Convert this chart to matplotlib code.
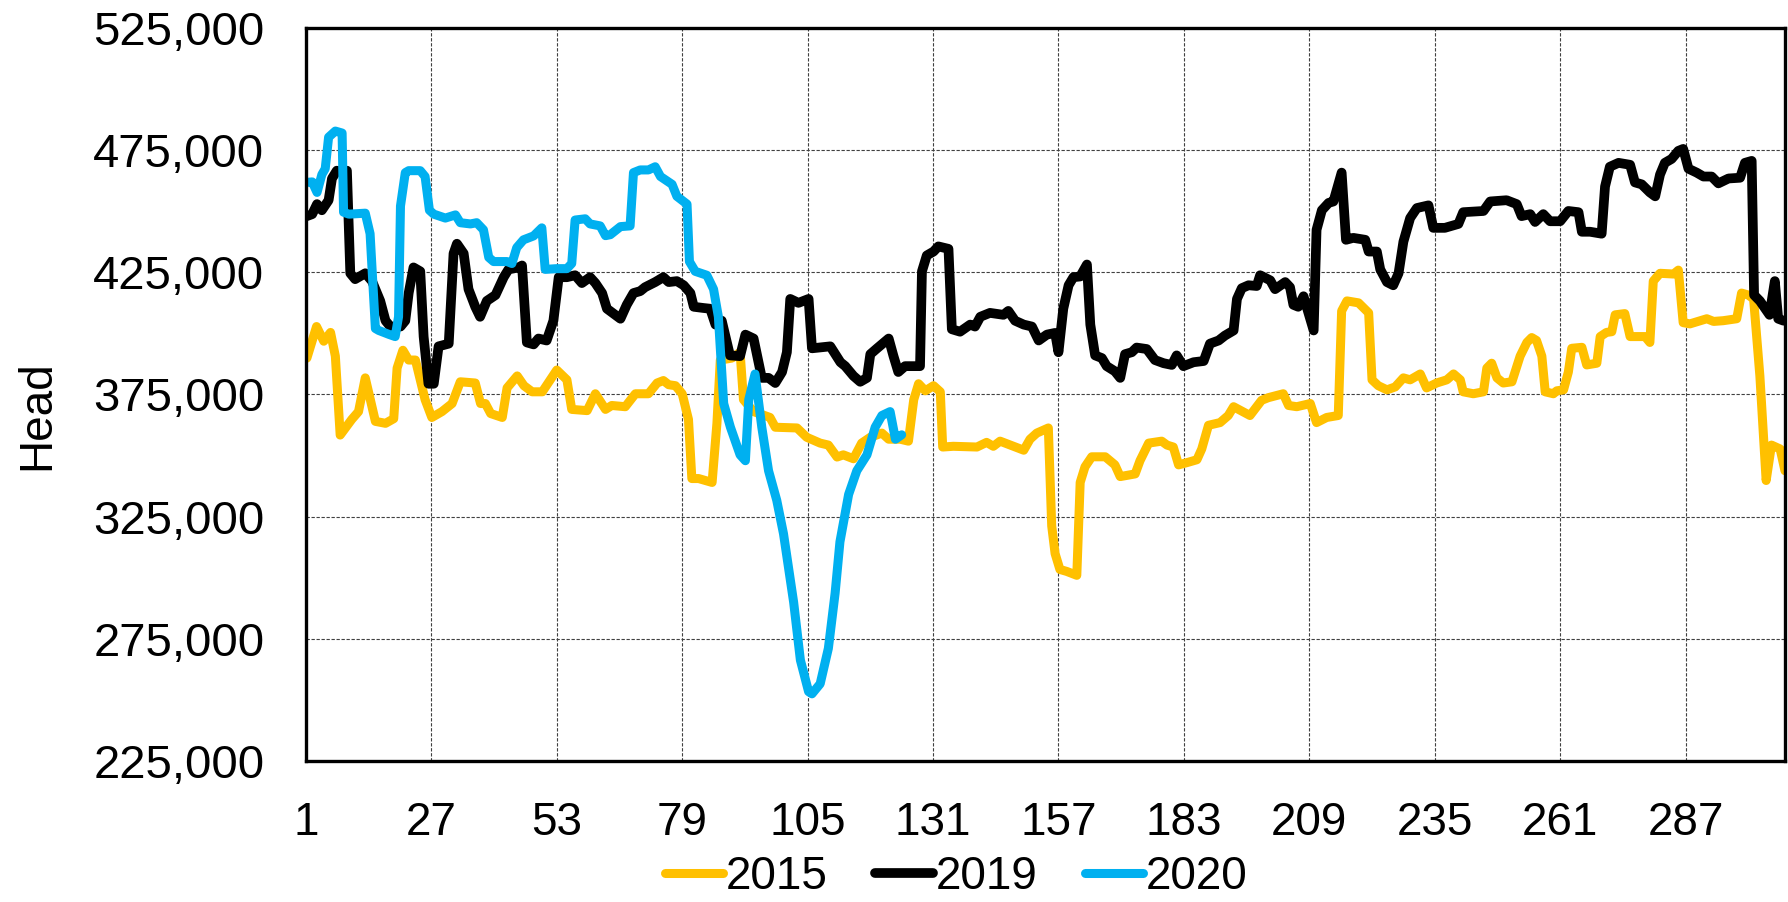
import matplotlib
matplotlib.use("Agg")
import matplotlib.pyplot as plt
from matplotlib.ticker import FuncFormatter

plt.rcParams['font.family'] = ['Liberation Sans', 'DejaVu Sans']

# ---- data (day index, head in thousands) ----
x2015 = [1.2, 3.2, 4.7, 6.1, 7.1, 8.1, 10.5, 11.9, 13.3, 15.4, 17.5, 19.2, 19.9, 21.1, 22.3, 23.7,
         25.7, 27.1, 29.2, 31.3, 33.0, 36.1, 37.2, 38.2, 39.3, 41.7, 42.7, 44.8, 46.2, 47.9, 50.0,
         53.0, 55.1, 56.1, 59.3, 61.0, 63.1, 64.4, 67.2, 69.3, 72.0, 73.8, 75.1, 76.2, 77.6, 79.0,
         80.3, 81.0, 82.4, 85.2, 86.2, 86.9, 89.3, 91.0, 91.7, 93.8, 97.2, 98.3, 102.8, 104.8,
         107.6, 109.3, 111.1, 112.4, 114.5, 116.2, 118.0, 120.4, 121.8, 124.2, 125.9, 127.0, 128.0,
         129.4, 131.1, 132.5, 133.0, 135.2, 140.1, 142.1, 143.5, 144.9, 147.0, 149.8, 151.1, 152.5,
         154.9, 155.6, 156.3, 157.3, 158.7, 160.8, 161.5, 162.5, 163.9, 166.7, 168.7, 169.8, 172.9,
         173.9, 175.7, 178.4, 179.5, 180.8, 181.9, 183.6, 185.7, 186.7, 188.1, 190.5, 192.2, 193.3,
         196.7, 199.1, 200.5, 203.6, 204.7, 206.4, 209.2, 210.5, 212.6, 215.0, 215.7, 216.8, 219.2,
         221.3, 222.0, 223.3, 225.1, 226.8, 228.5, 229.9, 232.0, 233.3, 235.4, 237.5, 238.9, 240.3,
         240.9, 243.0, 245.1, 245.8, 246.8, 247.9, 249.2, 251.0, 252.7, 254.1, 255.1, 256.1, 257.2,
         257.9, 259.6, 260.3, 261.7, 262.7, 263.4, 265.5, 266.5, 268.6, 269.3, 270.6, 271.7, 272.4,
         274.4, 275.5, 278.6, 279.6, 280.3, 281.7, 284.5, 285.5, 286.5, 287.9, 291.4, 292.8, 294.8,
         297.6, 298.6, 300.0, 301.1, 302.4, 303.7, 304.8, 306.6, 307.6]
y2015 = [389.9, 402.8, 396.8, 400.4, 390.7, 358.4, 364.8, 368.0, 381.8, 364.0, 363.2, 365.1, 385.8,
         393.1, 389.1, 389.1, 372.9, 365.6, 368.0, 371.3, 380.2, 379.7, 371.3, 371.3, 367.2, 365.6,
         377.7, 382.6, 378.6, 376.1, 376.1, 385.0, 381.0, 368.9, 368.4, 375.3, 368.9, 370.5, 370.0,
         375.3, 375.3, 379.7, 380.7, 379.0, 378.6, 375.3, 364.8, 340.6, 340.6, 339.0, 363.2, 389.1,
         389.9, 392.3, 372.9, 368.0, 365.6, 361.6, 361.3, 357.5, 355.1, 354.3, 349.4, 350.3, 348.7,
         355.1, 357.5, 359.2, 356.7, 356.7, 355.9, 372.9, 379.4, 376.5, 378.6, 376.1, 353.5, 353.8,
         353.5, 355.4, 353.8, 355.9, 354.3, 352.2, 356.7, 359.2, 361.3, 321.2, 309.9, 303.4, 302.6,
         301.0, 339.0, 345.4, 349.5, 349.5, 346.2, 341.4, 342.5, 347.9, 355.1, 355.9, 354.3, 353.5,
         346.2, 347.1, 348.3, 352.7, 362.4, 363.5, 366.4, 370.0, 366.4, 372.6, 373.7, 375.3, 370.5,
         370.0, 371.3, 363.5, 365.6, 366.4, 409.2, 413.3, 412.5, 408.4, 381.0, 378.6, 376.9, 378.1,
         381.8, 381.0, 383.4, 377.7, 379.7, 381.0, 383.4, 381.0, 376.1, 375.3, 376.1, 385.8, 387.8,
         381.8, 379.7, 380.2, 390.7, 396.3, 398.3, 397.1, 390.7, 376.1, 375.3, 376.5, 376.9, 384.2,
         393.9, 394.3, 387.1, 387.8, 398.7, 400.4, 400.7, 407.6, 408.1, 398.7, 398.7, 396.3, 421.4,
         424.6, 424.3, 425.9, 404.4, 403.9, 406.0, 404.9, 405.2, 406.0, 416.5, 415.7, 414.1, 382.6,
         339.8, 354.3, 352.7, 343.8]

x2019 = [1.2, 2.3, 3.3, 4.3, 5.7, 6.4, 7.4, 8.8, 9.5, 10.2, 11.2, 13.3, 14.7, 16.4, 17.5, 18.5, 20.6,
         21.6, 22.3, 23.3, 24.7, 25.4, 26.4, 27.5, 28.5, 30.6, 31.6, 32.3, 33.7, 34.7, 36.1, 37.1,
         38.5, 40.3, 42.0, 43.0, 45.1, 45.8, 46.8, 48.2, 49.2, 50.9, 52.3, 53.4, 55.1, 56.8, 58.2,
         59.9, 61.0, 62.4, 63.4, 66.2, 67.5, 68.9, 70.3, 71.3, 73.4, 75.1, 76.2, 77.9, 79.3, 80.7,
         81.4, 83.4, 84.8, 85.9, 87.2, 88.9, 91.0, 92.1, 93.8, 95.5, 96.9, 98.3, 99.7, 100.7, 101.4,
         103.1, 105.2, 105.9, 109.7, 111.8, 112.8, 114.5, 115.9, 117.3, 118.0, 119.4, 121.8, 122.8,
         123.8, 125.2, 128.3, 128.7, 129.7, 131.1, 132.1, 134.2, 134.9, 136.6, 138.7, 139.7, 140.8,
         142.8, 145.6, 146.6, 148.0, 149.8, 151.5, 152.9, 154.6, 156.3, 157.0, 158.0, 159.1, 160.1,
         161.5, 162.9, 163.6, 164.6, 166.0, 167.0, 168.7, 169.8, 170.8, 172.2, 173.2, 175.3, 177.0,
         178.8, 180.5, 181.5, 182.9, 185.0, 187.1, 188.4, 190.2, 191.5, 193.3, 194.0, 195.0, 196.4,
         198.1, 198.8, 200.9, 201.9, 204.0, 205.0, 205.7, 206.7, 207.8, 209.9, 210.5, 211.6, 213.0,
         214.0, 215.7, 216.6, 218.1, 220.6, 221.3, 223.0, 223.7, 225.1, 226.4, 227.5, 228.5, 229.9,
         231.3, 233.7, 234.7, 237.1, 239.9, 240.9, 245.1, 246.5, 249.9, 252.0, 253.0, 254.8, 255.8,
         257.5, 258.9, 261.0, 262.7, 264.8, 265.5, 267.2, 269.6, 270.3, 271.3, 273.1, 275.5, 276.5,
         277.9, 279.6, 280.7, 281.7, 282.7, 284.1, 285.5, 286.5, 287.6, 289.3, 290.7, 292.4, 293.8,
         295.9, 298.3, 299.3, 300.7, 301.2, 302.4, 304.4, 305.5, 306.2, 307.3]
y2019 = [448.0, 448.8, 452.9, 450.4, 454.5, 463.4, 466.6, 465.8, 466.6, 424.6, 422.2, 424.6, 421.4,
         413.3, 405.2, 402.8, 402.8, 405.2, 416.5, 427.0, 425.4, 398.7, 379.4, 379.4, 394.7, 395.8,
         432.7, 436.7, 432.7, 418.1, 410.9, 406.8, 413.3, 415.7, 423.0, 426.2, 427.0, 427.8, 396.3,
         395.5, 397.9, 397.1, 405.2, 423.0, 423.0, 423.8, 420.6, 423.0, 420.6, 416.5, 410.1, 406.0,
         411.7, 416.5, 417.3, 418.9, 421.0, 423.0, 421.0, 421.4, 419.7, 416.5, 410.9, 410.4, 410.1,
         403.6, 405.2, 391.0, 390.7, 399.5, 397.9, 381.8, 381.8, 379.7, 384.2, 392.3, 414.1, 412.5,
         414.1, 393.9, 394.7, 388.2, 386.6, 382.6, 380.2, 381.8, 391.5, 393.9, 397.9, 390.7, 384.2,
         386.6, 386.6, 425.4, 431.9, 433.5, 435.6, 434.6, 401.7, 400.7, 403.6, 402.8, 406.8, 408.4,
         407.6, 409.2, 405.2, 403.6, 402.8, 397.1, 399.5, 400.2, 392.3, 410.1, 419.7, 423.0, 423.3,
         428.2, 403.6, 391.0, 389.9, 386.6, 384.5, 381.8, 391.5, 392.3, 394.2, 393.6, 389.1, 387.8,
         387.1, 391.0, 386.6, 388.2, 388.7, 395.8, 397.1, 399.1, 401.2, 414.1, 418.5, 419.7, 419.4,
         423.8, 421.7, 418.1, 421.0, 418.9, 411.7, 410.9, 415.2, 401.2, 442.4, 450.4, 453.4, 454.0,
         465.8, 438.3, 439.1, 438.3, 433.5, 433.5, 426.2, 421.0, 419.7, 424.6, 437.5, 447.2, 451.3,
         452.4, 443.2, 443.2, 444.8, 449.6, 450.1, 454.0, 454.5, 452.9, 448.0, 448.8, 445.6, 448.8,
         445.9, 445.9, 450.1, 449.6, 441.6, 441.6, 440.8, 460.1, 468.2, 469.8, 469.0, 461.8, 461.0,
         457.7, 456.1, 465.0, 469.8, 471.4, 474.7, 475.5, 467.4, 465.8, 464.2, 464.2, 461.4, 463.4,
         463.7, 469.8, 470.6, 415.7, 413.3, 407.6, 421.4, 406.0, 405.2]

x2020 = [1.2, 2.3, 3.3, 4.3, 5.0, 5.7, 7.1, 8.5, 8.8, 9.9, 13.3, 14.3, 15.4, 16.1, 18.2, 19.5, 20.2,
         20.6, 21.6, 22.3, 24.7, 25.7, 26.6, 27.5, 29.9, 32.0, 33.0, 35.1, 36.4, 37.8, 38.9, 39.9,
         42.7, 43.7, 44.7, 46.1, 48.2, 49.9, 50.6, 53.0, 55.1, 56.1, 56.8, 58.9, 59.9, 62.0, 63.1,
         64.1, 66.2, 68.2, 68.9, 70.3, 72.0, 73.4, 74.5, 76.9, 77.9, 80.0, 80.5, 81.7, 84.1, 85.5,
         86.5, 87.6, 89.0, 91.0, 92.1, 92.8, 94.1, 95.5, 96.9, 98.6, 100.0, 102.1, 103.5, 105.2,
         105.9, 107.6, 109.3, 110.7, 111.7, 113.5, 115.2, 117.3, 119.0, 120.4, 122.1, 123.2, 124.5]
y2020 = [461.8, 462.0, 457.7, 465.0, 467.4, 480.3, 482.8, 482.0, 449.6, 448.8, 449.2, 440.8, 402.0,
         401.2, 399.6, 398.7, 406.8, 452.1, 465.8, 466.6, 466.6, 464.2, 450.4, 448.8, 447.2, 448.5,
         445.3, 444.8, 445.3, 442.4, 431.1, 429.4, 429.4, 428.6, 435.1, 438.3, 439.9, 443.2, 426.2,
         426.5, 426.5, 428.6, 446.4, 446.9, 444.8, 444.0, 440.0, 440.4, 443.7, 444.0, 465.8, 466.9,
         466.9, 468.2, 464.2, 461.0, 456.1, 452.9, 429.4, 425.4, 423.8, 418.1, 406.8, 371.3, 361.6,
         350.3, 347.9, 372.9, 383.4, 361.6, 343.8, 331.7, 318.0, 290.0, 266.3, 253.4, 252.5, 256.6,
         271.1, 293.7, 314.7, 334.1, 343.8, 350.3, 361.6, 366.4, 368.0, 356.7, 358.5]

series = [("2015", x2015, y2015, "#FFC000", 6.5),
          ("2019", x2019, y2019, "#000000", 7.0),
          ("2020", x2020, y2020, "#00B0F0", 6.5)]

y_ticks = [225, 275, 325, 375, 425, 475, 525]
x_ticks = list(range(1, 300, 26))

fig = plt.figure(figsize=(17.88, 9.02), dpi=100)
ax = fig.add_axes([0.1711, 0.1563, 0.9983 - 0.1711, 0.969 - 0.1563])

for name, xs, ys, col, lw in series:
    ax.plot(xs, [v * 1000 for v in ys], color=col, lw=lw, label=name,
            solid_joinstyle='round', solid_capstyle='round')

ax.set_xlim(1, 307.6)
ax.set_ylim(225000, 525000)
ax.set_yticks([v * 1000 for v in y_ticks])
ax.set_xticks(x_ticks)
ax.yaxis.set_major_formatter(FuncFormatter(lambda v, p: f"{int(round(v)):,}"))
ax.tick_params(axis='both', length=0, colors='black')
ax.tick_params(axis='y', pad=30, labelsize=34)
ax.tick_params(axis='x', pad=29, labelsize=33)
ax.grid(True, color='#404040', linestyle=(0, (3, 1.5)), linewidth=0.8)
ax.set_axisbelow(True)
for s in ['left', 'bottom', 'right', 'top']:
    ax.spines[s].set_linewidth(2.4)
ax.set_ylabel("Head", fontsize=33)
ax.yaxis.set_label_coords(-0.167, 0.472)

leg = fig.legend(loc='center', bbox_to_anchor=(0.535, 0.028), ncol=3, frameon=False,
                 fontsize=33, handlelength=1.27, handletextpad=0.06, columnspacing=1.03)

fig.savefig("out.png", dpi=100)
